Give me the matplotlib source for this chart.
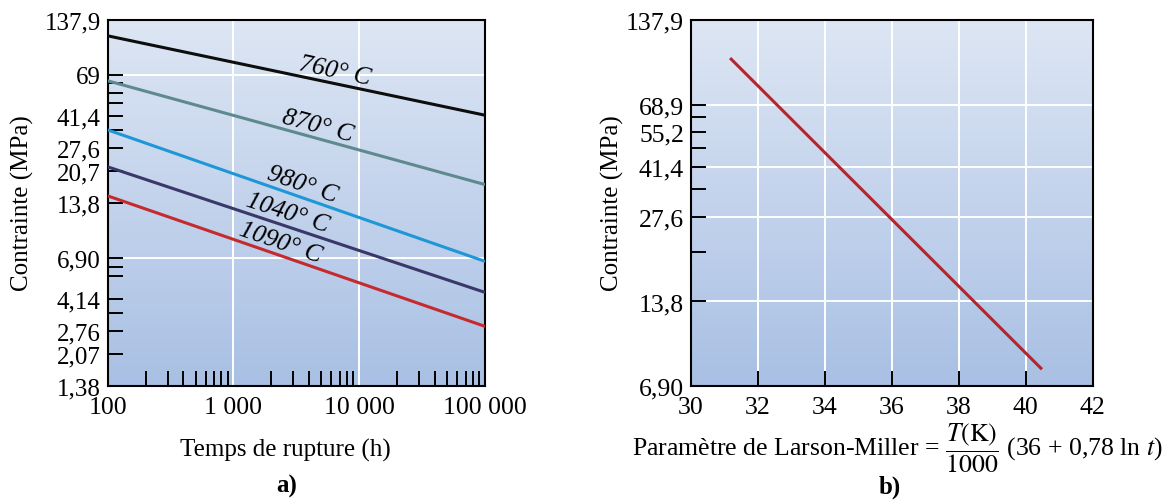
import numpy as np
import matplotlib
matplotlib.use('Agg')
import matplotlib.pyplot as plt
from matplotlib.colors import LinearSegmentedColormap
from matplotlib.ticker import FixedLocator, NullFormatter, NullLocator

plt.rcParams['font.family'] = ['Liberation Serif', 'DejaVu Serif']
plt.rcParams['mathtext.fontset'] = 'stix'

# ---- data (a): stress vs rupture time, one straight line per temperature
hours = [100, 100000]
s760 = [112.8, 41.6]
s870 = [64.1, 17.4]
s980 = [34.6, 6.63]
s1040 = [21.75, 4.49]
s1090 = [15.1, 2.93]
temp_labels = ["760° C", "870° C", "980° C", "1040° C", "1090° C"]
label_x = [6400, 4700, 3500, 2700, 2350]
label_y = [72.4, 36.3, 17.5, 12.3, 8.44]

yticks_a = [137.9, 69, 41.4, 27.6, 20.7, 13.8, 6.90, 4.14, 2.76, 2.07, 1.38]
ylabels_a = ["137,9", "69", "41,4", "27,6", "20,7", "13,8", "6,90", "4,14", "2,76", "2,07", "1,38"]
yminor_a = [62.1, 55.2, 48.3, 34.5, 6.21, 5.52, 3.45]
xticks_a = [100, 1000, 10000, 100000]
xlabels_a = ["100", "1 000", "10 000", "100 000"]
xminor_a = [200, 300, 400, 500, 600, 700, 800, 900,
            2000, 3000, 4000, 5000, 6000, 7000, 8000, 9000,
            20000, 30000, 40000, 50000, 60000, 70000, 80000, 90000]
hgrid_a = [69, 6.90]
vgrid_a = [1000, 10000]

# ---- data (b): Larson-Miller
lm_param = [31.2, 40.45]
lm_stress = [100, 8.0]
yticks_b = [137.9, 68.9, 55.2, 41.4, 27.6, 13.8, 6.90]
ylabels_b = ["137,9", "68,9", "55,2", "41,4", "27,6", "13,8", "6,90"]
yminor_b = [62.1, 48.3, 34.5, 20.7]
xticks_b = [30, 32, 34, 36, 38, 40, 42]
hgrid_b = [68.9, 41.4, 27.6, 13.8]
vgrid_b = [32, 34, 36, 38, 40]

line_colors = ["#0d0d0d", "#5e8a8e", "#1e97d6", "#3a3868", "#c42a2e"]
bg_cmap = LinearSegmentedColormap.from_list("bg", ["#dde6f4", "#a9c0e4"])

fig = plt.figure(figsize=(11.73, 5.02), dpi=100)
rect_a = [0.0918, 0.2285, 0.3217, 0.730]
rect_b = [0.5891, 0.2285, 0.3425, 0.730]


def make_axes(rect):
    bg = fig.add_axes(rect, zorder=0)
    grad = np.linspace(0, 1, 256).reshape(-1, 1)
    bg.imshow(grad, aspect='auto', cmap=bg_cmap, extent=[0, 1, 0, 1], origin='upper')
    bg.axis('off')
    ax = fig.add_axes(rect, zorder=1)
    ax.set_facecolor('none')
    for sp in ax.spines.values():
        sp.set_linewidth(1.5)
        sp.set_color("black")
    return ax


# ---------------- panel a
ax = make_axes(rect_a)
ax.set_xscale('log')
ax.set_yscale('log')
ax.set_xlim(100, 100000)
ax.set_ylim(1.38, 137.9)
for v in hgrid_a:
    ax.axhline(v, color="white", lw=1.4, zorder=1)
for v in vgrid_a:
    ax.axvline(v, color="white", lw=1.4, zorder=1)

series = [s760, s870, s980, s1040, s1090]
angles = [-12, -15, -19, -18, -19]
for s, c in zip(series, line_colors):
    ax.plot(hours, s, color=c, lw=2.2, zorder=3, solid_capstyle='butt')
for lab, x, y, a in zip(temp_labels, label_x, label_y, angles):
    ax.text(x, y, lab, rotation=a, rotation_mode='anchor', ha='center', va='center',
            fontsize=18.5, style='italic', zorder=4)

ax.set_yticks(yticks_a, ylabels_a)
ax.yaxis.set_minor_locator(FixedLocator(yminor_a))
ax.yaxis.set_minor_formatter(NullFormatter())
ax.set_xticks(xticks_a, xlabels_a)
ax.xaxis.set_minor_locator(FixedLocator(xminor_a))
ax.xaxis.set_minor_formatter(NullFormatter())
ax.tick_params(axis='y', which='both', direction='in', length=11, width=1.4, labelsize=18, pad=5)
ax.tick_params(axis='x', which='major', direction='in', length=0, labelsize=18.5, pad=7)
ax.tick_params(axis='x', which='minor', direction='in', length=11, width=1.4)

# ---------------- panel b
bx = make_axes(rect_b)
bx.set_yscale('log')
bx.set_xlim(30, 42)
bx.set_ylim(6.90, 137.9)
for v in hgrid_b:
    bx.axhline(v, color="white", lw=1.4, zorder=1)
for v in vgrid_b:
    bx.axvline(v, color="white", lw=1.4, zorder=1)
bx.plot(lm_param, lm_stress, color="#b3262c", lw=2.2, zorder=3)

bx.set_yticks(yticks_b, ylabels_b)
bx.yaxis.set_minor_locator(FixedLocator(yminor_b))
bx.yaxis.set_minor_formatter(NullFormatter())
bx.set_xticks(xticks_b, [str(v) for v in xticks_b])
bx.xaxis.set_minor_locator(NullLocator())
bx.tick_params(axis='both', which='both', direction='in', length=11, width=1.4, labelsize=18.5)
bx.tick_params(axis='y', pad=5)
bx.tick_params(axis='x', pad=7)

# ---------------- labels
fig.text(0.019, 0.596, "Contrainte (MPa)", rotation=90, ha='center', va='center', fontsize=18)
fig.text(0.5217, 0.596, "Contrainte (MPa)", rotation=90, ha='center', va='center', fontsize=18)
fig.text(0.243, 0.0896, "Temps de rupture (h)", ha='center', va='baseline', fontsize=18)
fig.text(0.765, 0.0896, r"Paramètre de Larson-Miller = $\dfrac{T\mathrm{(K)}}{1000}$ (36 + 0,78 ln $t$)",
         ha='center', va='baseline', fontsize=18.5)
fig.text(0.2447, 0.030, "a)", ha='center', va='center', fontsize=18, fontweight='bold')
fig.text(0.7587, 0.030, "b)", ha='center', va='center', fontsize=18, fontweight='bold')

fig.savefig("out.png", dpi=100, facecolor="white")
